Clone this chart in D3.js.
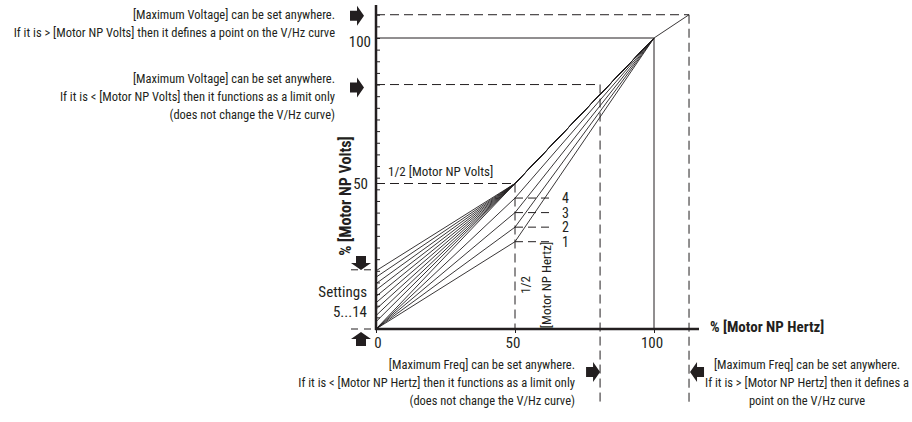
<!DOCTYPE html>
<html>
<head>
<meta charset="utf-8">
<script src="https://cdn.jsdelivr.net/npm/d3@7"></script>
<style>
  body { margin: 0; background: #fff; }
  svg text { font-family: "Liberation Sans Narrow", "Arial Narrow", "Roboto Condensed", sans-serif; fill: #231f20; }
  .bold { font-weight: bold; }
</style>
</head>
<body>
<div id="chart-container"></div>
<script>
"use strict"

// boost values (% volts at 0 Hz) for settings 6...14, setting 5 starts at 0
const boostVolts = [0, 2.5, 4.6, 6.8, 9, 11.2, 13.4, 15.6, 17.8, 20];
// fan/pump settings 1...4 : % volts at 1/2 motor NP hertz
const fanSettings = ["1", "2", "3", "4"];
const fanVolts = [30, 35, 40, 45];
// the two max voltage / max freq examples
const maxVoltage = [108, 84];
const maxFreq = [112.6, 80.6];
const xTickLabels = [0, 50, 100];
const yTickLabels = [50, 100];

document.addEventListener('DOMContentLoaded', function(){
  drawChart();
});

function drawChart(){
  let svgWidth = 912;
  let svgHeight = 422;

  var svg = d3.select('#chart-container')
    .append('svg')
    .attr('width', svgWidth)
    .attr('height', svgHeight);

  let xScale = d3.scaleLinear().domain([0, 100]).range([376, 654]);
  let yScale = d3.scaleLinear().domain([0, 100]).range([329, 38]);

  const ink = "#231f20";

  /***************************************
   DASHED GUIDES
  ***************************************/
  const dash = "9,5";
  // upper max voltage (defines a point)
  svg.append('line')
    .attr('x1', xScale(0)).attr('y1', yScale(maxVoltage[0]))
    .attr('x2', xScale(maxFreq[0])).attr('y2', yScale(maxVoltage[0]))
    .attr('stroke', ink).attr('stroke-dasharray', dash);
  svg.append('line')
    .attr('x1', xScale(maxFreq[0])).attr('y1', yScale(maxVoltage[0]))
    .attr('x2', xScale(maxFreq[0])).attr('y2', 405)
    .attr('stroke', ink).attr('stroke-dasharray', dash);
  // lower max voltage (limit only)
  svg.append('line')
    .attr('x1', xScale(0)).attr('y1', yScale(maxVoltage[1]))
    .attr('x2', xScale(maxFreq[1])).attr('y2', yScale(maxVoltage[1]))
    .attr('stroke', ink).attr('stroke-dasharray', dash);
  svg.append('line')
    .attr('x1', xScale(maxFreq[1])).attr('y1', yScale(maxVoltage[1]))
    .attr('x2', xScale(maxFreq[1])).attr('y2', 405)
    .attr('stroke', ink).attr('stroke-dasharray', dash);
  // 1/2 motor NP volts and hertz
  svg.append('line')
    .attr('x1', xScale(0)).attr('y1', yScale(50))
    .attr('x2', xScale(50)).attr('y2', yScale(50))
    .attr('stroke', ink).attr('stroke-dasharray', dash);
  svg.append('line')
    .attr('x1', xScale(50)).attr('y1', yScale(50))
    .attr('x2', xScale(50)).attr('y2', yScale(0))
    .attr('stroke', ink).attr('stroke-dasharray', dash);
  // short dashes for settings 1-4
  svg.selectAll('.fan-dash')
    .data(fanVolts)
    .enter()
    .append('line')
    .attr('class', 'fan-dash')
    .attr('x1', xScale(50)).attr('x2', xScale(50) + 38)
    .attr('y1', d => yScale(d)).attr('y2', d => yScale(d))
    .attr('stroke', ink).attr('stroke-dasharray', "8,5");
  svg.selectAll('.fan-label')
    .data(fanSettings)
    .enter()
    .append('text')
    .attr('class', 'fan-label')
    .attr('x', xScale(50) + 47)
    .attr('y', (d, i) => yScale(fanVolts[i]))
    .attr('dy', '0.35em')
    .attr('font-size', 14)
    .text(d => d);

  // settings dashes near the y axis
  svg.append('line')
    .attr('x1', 351).attr('x2', 372)
    .attr('y1', yScale(boostVolts[boostVolts.length - 1]) - 1)
    .attr('y2', yScale(boostVolts[boostVolts.length - 1]) - 1)
    .attr('stroke', ink).attr('stroke-dasharray', "7,6");
  svg.append('line')
    .attr('x1', 351).attr('x2', 372)
    .attr('y1', yScale(0)).attr('y2', yScale(0))
    .attr('stroke', ink).attr('stroke-dasharray', "7,6");

  /***************************************
   SOLID REFERENCE LINES (100%)
  ***************************************/
  svg.append('line')
    .attr('x1', xScale(0)).attr('y1', yScale(100))
    .attr('x2', xScale(100)).attr('y2', yScale(100))
    .attr('stroke', ink).attr('stroke-width', 1);
  svg.append('line')
    .attr('x1', xScale(100)).attr('y1', yScale(100))
    .attr('x2', xScale(100)).attr('y2', yScale(0))
    .attr('stroke', ink).attr('stroke-width', 1);

  /***************************************
   V/Hz CURVES
  ***************************************/
  let line = d3.line().x(d => xScale(d[0])).y(d => yScale(d[1]));

  let curves = [];
  boostVolts.forEach(b => curves.push([[0, b], [50, 50], [100, 100]]));
  fanVolts.forEach(v => curves.push([[0, 0], [50, v], [100, 100]]));
  curves.push([[100, 100], [maxFreq[0], maxVoltage[0]]]);

  svg.selectAll('.curve')
    .data(curves)
    .enter()
    .append('path')
    .attr('class', 'curve')
    .attr('d', line)
    .attr('fill', 'none')
    .attr('stroke', ink)
    .attr('stroke-width', 0.9);

  /***************************************
   AXES
  ***************************************/
  const yAxis = d3.axisLeft(yScale)
    .tickValues(d3.range(0, 109, 4))
    .tickSizeInner(-4)
    .tickSizeOuter(0)
    .tickFormat('');
  let yAxisG = svg.append('g')
    .attr('transform', 'translate(' + xScale(0) + ', 0)')
    .call(yAxis);
  yAxisG.select('.domain').remove();
  yAxisG.selectAll('line').attr('stroke', ink);

  const xAxis = d3.axisBottom(xScale)
    .tickValues(xTickLabels)
    .tickSizeInner(4)
    .tickSizeOuter(0)
    .tickFormat('');
  let xAxisG = svg.append('g')
    .attr('transform', 'translate(0, ' + yScale(0) + ')')
    .call(xAxis);
  xAxisG.select('.domain').remove();
  xAxisG.selectAll('line').attr('stroke', ink);

  svg.append('line')
    .attr('x1', xScale(0)).attr('y1', yScale(0) + 1)
    .attr('x2', xScale(0)).attr('y2', 5)
    .attr('stroke', ink).attr('stroke-width', 2.5);
  svg.append('line')
    .attr('x1', xScale(0) - 1).attr('y1', yScale(0))
    .attr('x2', 699).attr('y2', yScale(0))
    .attr('stroke', ink).attr('stroke-width', 2.5);

  svg.selectAll('.xlab')
    .data(xTickLabels)
    .enter()
    .append('text')
    .attr('class', 'xlab')
    .attr('x', d => xScale(d) + (d === 0 ? 2 : -2))
    .attr('y', yScale(0) + 19)
    .attr('text-anchor', 'middle')
    .attr('font-size', 15)
    .text(d => d);

  svg.selectAll('.ylab')
    .data(yTickLabels)
    .enter()
    .append('text')
    .attr('class', 'ylab')
    .attr('x', d => xScale(0) - (d === 100 ? 5 : 8))
    .attr('y', d => yScale(d) + (d === 100 ? 4 : 0))
    .attr('dy', '0.35em')
    .attr('text-anchor', 'end')
    .attr('font-size', 15)
    .text(d => d);

  svg.append('text')
    .attr('class', 'bold')
    .attr('transform', 'translate(351, 196) rotate(-90)')
    .attr('text-anchor', 'middle')
    .attr('font-size', 16)
    .text('% [Motor NP Volts]');

  svg.append('text')
    .attr('class', 'bold')
    .attr('x', 710)
    .attr('y', yScale(0) + 3)
    .attr('font-size', 15)
    .text('% [Motor NP Hertz]');

  /***************************************
   ANNOTATIONS
  ***************************************/
  svg.append('text')
    .attr('x', xScale(0) + 12)
    .attr('y', yScale(50) - 8)
    .attr('font-size', 13)
    .text('1/2 [Motor NP Volts]');

  svg.append('text')
    .attr('transform', 'translate(' + (xScale(50) + 15) + ', 285) rotate(-90)')
    .attr('text-anchor', 'middle')
    .attr('font-size', 13)
    .text('1/2');
  svg.append('text')
    .attr('transform', 'translate(' + (xScale(50) + 36) + ', 285) rotate(-90)')
    .attr('text-anchor', 'middle')
    .attr('font-size', 13)
    .text('[Motor NP Hertz]');

  svg.append('text')
    .attr('x', 367).attr('y', 292)
    .attr('dy', '0.35em')
    .attr('text-anchor', 'end')
    .attr('font-size', 15)
    .text('Settings');
  svg.append('text')
    .attr('x', 367).attr('y', 312)
    .attr('dy', '0.35em')
    .attr('text-anchor', 'end')
    .attr('font-size', 15)
    .text('5...14');

  function textBlock(lines, x, y, anchor){
    svg.append('g').selectAll('text')
      .data(lines)
      .enter()
      .append('text')
      .attr('x', x)
      .attr('y', (d, i) => y + i * 18)
      .attr('text-anchor', anchor)
      .attr('font-size', 12.5)
      .text(d => d);
  }

  textBlock(['[Maximum Voltage] can be set anywhere.',
             'If it is > [Motor NP Volts] then it defines a point on the V/Hz curve'], 335, 19, 'end');
  textBlock(['[Maximum Voltage] can be set anywhere.',
             'If it is < [Motor NP Volts] then it functions as  a limit only',
             '(does not change the V/Hz curve)'], 335, 83, 'end');
  textBlock(['[Maximum Freq] can be set anywhere.',
             'If it is < [Motor NP Hertz] then it functions as a limit only',
             '(does not change the V/Hz curve)'], 575, 369, 'end');
  textBlock(['[Maximum Freq] can be set anywhere.',
             'If it is > [Motor NP Hertz] then it defines  a',
             'point on the V/Hz curve'], 807, 369, 'middle');

  /***************************************
   BLOCK ARROWS
  ***************************************/
  const arrowPath = "M-7,-5 L0,-5 L0,-10 L7,0 L0,10 L0,5 L-7,5 Z";
  function arrow(x, y, angle){
    svg.append('path')
      .attr('d', arrowPath)
      .attr('transform', 'translate(' + x + ',' + y + ') rotate(' + angle + ')')
      .attr('fill', ink);
  }
  arrow(357, yScale(maxVoltage[0]) + 1, 0);
  arrow(357, yScale(maxVoltage[1]) + 3, 0);
  arrow(361, 263, 90);
  arrow(361, 339, -90);
  arrow(xScale(maxFreq[1]) - 7, 372, 0);
  arrow(xScale(maxFreq[0]) + 8, 372, 180);
}
</script>
</body>
</html>
